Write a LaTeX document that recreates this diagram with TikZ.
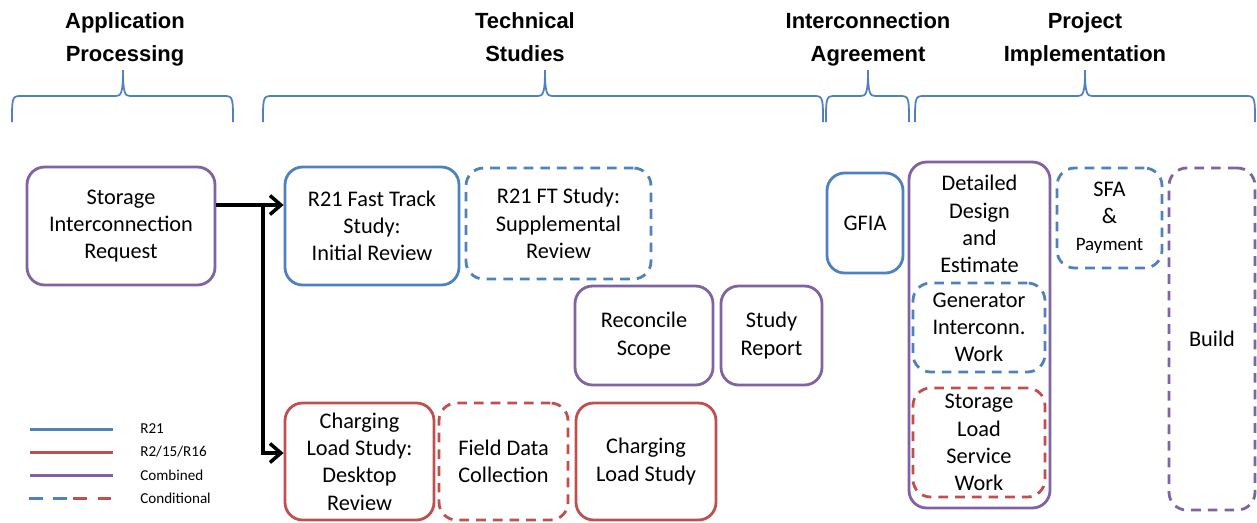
\documentclass[tikz,border=0pt]{standalone}
\usepackage{fontspec}
\setmainfont{Carlito}
\newfontfamily\headfont{Liberation Sans}
\usetikzlibrary{arrows.meta}
\definecolor{rblue}{RGB}{79,129,189}
\definecolor{rred}{RGB}{192,80,77}
\definecolor{rpurple}{RGB}{128,100,162}
\begin{document}
\begin{tikzpicture}[x=0.02cm, y=-0.02cm,
    box/.style={draw, line width=1.6pt, rounded corners=10pt, align=center, inner sep=0pt,
      font=\fontsize{12.7}{15.5}\selectfont},
    boxtext/.style={align=center, font=\fontsize{12.7}{15.5}\selectfont},
    cond/.style={dash pattern=on 5.5pt off 4pt},
    arr/.style={line width=2pt, -{Straight Barb[length=2.2mm,width=3.8mm,line width=2pt]}},
    phase/.style={align=center, text depth=3pt, font=\headfont\bfseries\fontsize{12.5}{18.7}\selectfont},
    legtext/.style={anchor=west, inner sep=0pt, font=\fontsize{8.6}{10}\selectfont}]
    \useasboundingbox (0,0) rectangle (1257,522);
    % Phases
    \node[phase] (hApp) at (125,39.5) {Application\\Processing};
    \node[phase] (hTech) at (525,39.5) {Technical\\Studies};
    \node[phase] (hAgr) at (868,39.5) {Interconnection\\Agreement};
    \node[phase] (hImpl) at (1085,39.5) {Project\\Implementation};
    % Braces under the phases
    \foreach \l/\t/\r in {12/123/233, 263/545/823, 826/868/909, 915/1085/1255}
      \draw[rblue, line width=1pt]
        (\l,122) .. controls (\l,99) and (\l,96) .. (\l+8,96) -- (\t-7,96)
        .. controls (\t-2,96) and (\t,93) .. (\t,70)
        .. controls (\t,93) and (\t+2,96) .. (\t+7,96) -- (\r-8,96)
        .. controls (\r,96) and (\r,99) .. (\r,122);
    % Application
    \node[box, rpurple, text=black, minimum width=3.76cm, minimum height=2.36cm] (req) at (121,226)
      {Storage\\Interconnection\\Request};
    % Technical studies
    \node[box, rblue, text=black, minimum width=3.48cm, minimum height=2.36cm] (ftinit) at (372,226)
      {R21 Fast Track\\Study:\\Initial Review};
    \node[box, cond, rblue, text=black, minimum width=3.70cm, minimum height=2.22cm] (ftsupp) at (558.5,223.5)
      {R21 FT Study:\\Supplemental\\Review};
    \node[box, rpurple, text=black, minimum width=2.76cm, minimum height=1.98cm] (scope) at (644,335.5)
      {Reconcile\\Scope};
    \node[box, rpurple, text=black, minimum width=2.02cm, minimum height=1.98cm] (report) at (771.5,335.5)
      {Study\\Report};
    \node[box, rred, text=black, minimum width=2.98cm, minimum height=2.34cm] (desk) at (359.5,461.5)
      {Charging\\Load Study:\\Desktop\\Review};
    \node[box, cond, rred, text=black, minimum width=2.58cm, minimum height=2.34cm] (field) at (503.5,461.5)
      {Field Data\\Collection};
    \node[box, rred, text=black, minimum width=2.80cm, minimum height=2.34cm] (chload) at (646,461.5)
      {Charging\\Load Study};
    % Agreement
    \node[box, rblue, text=black, minimum width=1.52cm, minimum height=2.0cm] (gfia) at (865,223) {GFIA};
    % Implementation
    \node[box, rpurple, minimum width=2.82cm, minimum height=6.92cm] (design) at (979.5,335) {};
    \node[boxtext] (designtxt) at (979.5,224) {Detailed\\Design\\and\\Estimate};
    \node[box, cond, rblue, text=black, minimum width=2.64cm, minimum height=1.78cm] (gen) at (979,327.5)
      {Generator\\Interconn.\\Work};
    \node[box, cond, rred, text=black, minimum width=2.64cm, minimum height=2.18cm] (sload) at (979,442.5)
      {Storage\\Load\\Service\\Work};
    \node[box, cond, rblue, text=black, minimum width=2.10cm, minimum height=2.0cm] (sfa) at (1109.5,218)
      {SFA\\\&\\{\fontsize{10.8}{15.5}\selectfont Payment}};
    \node[box, cond, rpurple, text=black, minimum width=1.72cm, minimum height=6.84cm] (build) at (1212,339)
      {Build};
    % Arrows
    \draw[arr] ([yshift=0.42cm]req.east) -- ([yshift=0.42cm]ftinit.west);
    \coordinate (split) at (263,205);
    \draw[arr] (split) |- ([yshift=0.17cm]desk.west);
    % Legend
    \draw[rblue, line width=1.7pt] (30,429) -- (113,429);
    \draw[rred, line width=1.7pt] (30,452) -- (113,452);
    \draw[rpurple, line width=1.7pt] (30,475) -- (113,475);
    \draw[rblue, line width=1.7pt] (29,498) -- (43,498) (53,498) -- (67,498);
    \draw[rred, line width=1.7pt] (73,498) -- (87,498) (98,498) -- (111,498);
    \node[legtext] (lgR21) at (140,429) {R21};
    \node[legtext] (lgR2) at (140,452) {R2/15/R16};
    \node[legtext] (lgComb) at (140,475) {Combined};
    \node[legtext] (lgCond) at (140,498) {Conditional};
\end{tikzpicture}
\end{document}
